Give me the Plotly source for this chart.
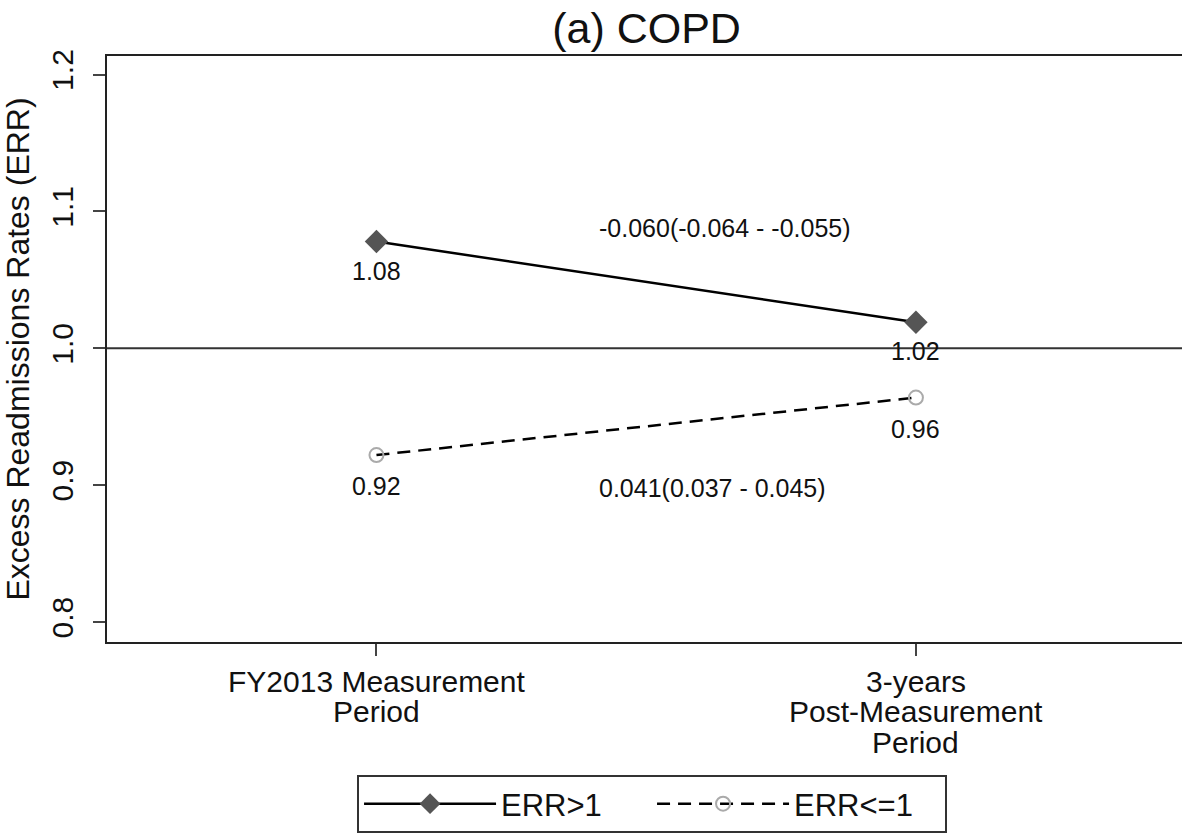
import plotly.graph_objects as go

periods = [["FY2013 Measurement", "Period"], ["3-years", "Post-Measurement", "Period"]]
x_pos = [0, 1]
err_gt1 = [1.078, 1.019]
err_le1 = [0.922, 0.964]
err_gt1_labels = ["1.08", "1.02"]
err_le1_labels = ["0.92", "0.96"]
diff_gt1 = "-0.060(-0.064 - -0.055)"
diff_le1 = "0.041(0.037 - 0.045)"
diff_pos = [(0.646, 1.088), (0.622, 0.898)]
yticks = [0.8, 0.9, 1.0, 1.1, 1.2]
ytick_labels = ["0.8", "0.9", "1.0", "1.1", "1.2"]

FONT = "Liberation Sans, Arial, sans-serif"
TXT = "#111111"

fig = go.Figure()
fig.add_trace(go.Scatter(
    x=x_pos, y=err_gt1, mode="lines+markers", name="ERR>1",
    line=dict(color="black", width=2.5),
    marker=dict(symbol="diamond", size=18, color="#555555"),
))
fig.add_trace(go.Scatter(
    x=x_pos, y=err_le1, mode="lines+markers", name="ERR<=1",
    line=dict(color="black", width=2.5, dash="13px,8px"),
    marker=dict(symbol="circle-open", size=14, color="#aaaaaa",
                line=dict(width=2, color="#aaaaaa")),
))

# value labels under each point
for vals, labels, shift in [(err_gt1, err_gt1_labels, -29), (err_le1, err_le1_labels, -31)]:
    for xv, yv, lab in zip(x_pos, vals, labels):
        fig.add_annotation(x=xv, y=yv, text=lab, showarrow=False, yshift=shift,
                           yanchor="middle", font=dict(size=25, color=TXT, family=FONT))

fig.add_hline(y=1.0, line=dict(color="#333333", width=2), layer="below")

for (ax, ay), txt in zip(diff_pos, [diff_gt1, diff_le1]):
    fig.add_annotation(x=ax, y=ay, text=txt, showarrow=False,
                       font=dict(size=25, color=TXT, family=FONT))

# multi-line category labels under the x ticks (tighter line spacing than ticktext)
for xv, lines in zip(x_pos, periods):
    for k, line in enumerate(lines):
        fig.add_annotation(x=xv, xref="x", y=0, yref="paper", text=line,
                           showarrow=False, yanchor="middle", xanchor="center",
                           yshift=-39 - 30.5 * k,
                           font=dict(size=30, color=TXT, family=FONT))

fig.update_layout(
    width=1182, height=833,
    margin=dict(l=107, r=0, t=56, b=191),
    paper_bgcolor="white", plot_bgcolor="white",
    font=dict(family=FONT, color=TXT),
    title=dict(text="(a) COPD", x=0.547, xanchor="center", y=0.966, yanchor="middle",
               font=dict(size=43, color=TXT, family=FONT)),
    showlegend=True,
    legend=dict(orientation="h", x=0.2326, xanchor="left", y=-0.2275, yanchor="top",
                bordercolor="#333333", borderwidth=2, bgcolor="white",
                font=dict(size=31, family=FONT, color=TXT),
                itemwidth=132, entrywidthmode="pixels", entrywidth=146,
                tracegroupgap=0),
    xaxis=dict(range=[-0.4995, 1.4932], tickvals=x_pos, showticklabels=False,
               showline=True, linecolor="#222222", linewidth=2, mirror=True,
               ticks="outside", ticklen=12, tickcolor="#444444", tickwidth=2,
               showgrid=False, zeroline=False, automargin=False),
    yaxis=dict(range=[0.78544, 1.21354], tickvals=yticks, ticktext=ytick_labels,
               showline=True, linecolor="#222222", linewidth=2,
               ticks="outside", ticklen=12, tickcolor="#444444", tickwidth=2,
               tickangle=-90, ticklabelstandoff=8, showgrid=False, zeroline=False,
               automargin=False,
               tickfont=dict(size=30, family=FONT, color=TXT),
               title=dict(text="Excess Readmissions Rates (ERR)", standoff=22,
                          font=dict(size=32, family=FONT, color=TXT))),
)

fig.write_html(
    "out.html",
    config={"displayModeBar": False},
    post_script="document.body.style.margin='0';document.body.style.overflow='hidden';",
)
